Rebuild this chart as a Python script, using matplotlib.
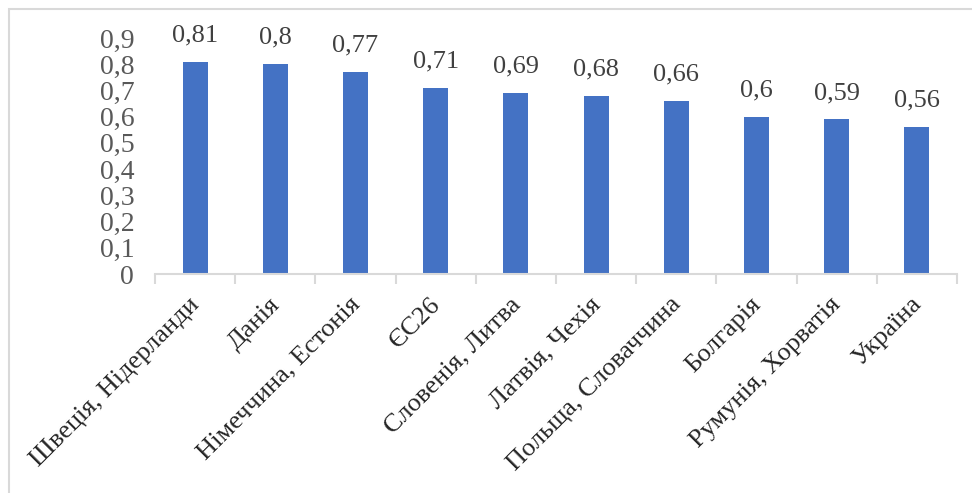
import matplotlib
matplotlib.use("Agg")
import matplotlib.pyplot as plt
import numpy as np
import matplotlib.transforms as mtrans
from matplotlib.patches import Rectangle

categories = ["Швеція, Нідерланди", "Данія", "Німеччина, Естонія", "ЄС26",
              "Словенія, Литва", "Латвія, Чехія", "Польща, Словаччина",
              "Болгарія", "Румунія, Хорватія", "Україна"]
values = [0.81, 0.8, 0.77, 0.71, 0.69, 0.68, 0.66, 0.6, 0.59, 0.56]
yticks = [0, 0.1, 0.2, 0.3, 0.4, 0.5, 0.6, 0.7, 0.8, 0.9]

plt.rcParams['font.family'] = ['Liberation Serif', 'DejaVu Serif']

W, H = 972, 493
fig = plt.figure(figsize=(W / 100, H / 100), dpi=100)
ax = fig.add_axes([155 / W, 1 - 274 / H, (957 - 155) / W, (274 - 38) / H])

x = np.arange(len(categories))
ax.bar(x, values, width=0.31, color="#4472C4", zorder=2)

ax.set_xlim(-0.5, len(categories) - 0.5)
ax.set_ylim(0, 0.9)

def fmt(v):
    s = f"{v:.2f}".rstrip("0").rstrip(".")
    return s.replace(".", ",")

ax.set_yticks(yticks)
ax.set_yticklabels([fmt(v) for v in yticks], fontsize=20, color="#595959")
ax.tick_params(axis="y", length=0, pad=15)

ax.set_xticks(x)
ax.set_xticklabels([])
ax.set_xticks(np.arange(len(categories) + 1) - 0.5, minor=True)
ax.tick_params(axis="x", which="major", length=0)
ax.tick_params(axis="x", which="minor", length=7, width=1.5, color="#D9D9D9")

for s in ["top", "right", "left"]:
    ax.spines[s].set_visible(False)
ax.spines["bottom"].set_color("#D9D9D9")
ax.spines["bottom"].set_linewidth(1.5)

for xi, v in zip(x, values):
    ax.annotate(fmt(v), (xi, v), xytext=(0, 11), textcoords="offset points",
                ha="center", va="bottom", fontsize=19, color="#404040")

for xi, lab in zip(x, categories):
    tr = mtrans.blended_transform_factory(ax.transData, ax.transAxes) + \
        mtrans.ScaledTranslation(1 / 100, -27 / 100, fig.dpi_scale_trans)
    ax.text(xi, 0, lab, transform=tr, rotation=45, rotation_mode="anchor",
            ha="right", va="center", fontsize=19, color="#262626")

fig.patches.append(Rectangle((9 / W, -0.1), 1.2, 1 - 9 / H + 0.1,
                             transform=fig.transFigure, fill=False,
                             edgecolor="#D9D9D9", linewidth=1.5))

fig.savefig("out.png", dpi=100)
